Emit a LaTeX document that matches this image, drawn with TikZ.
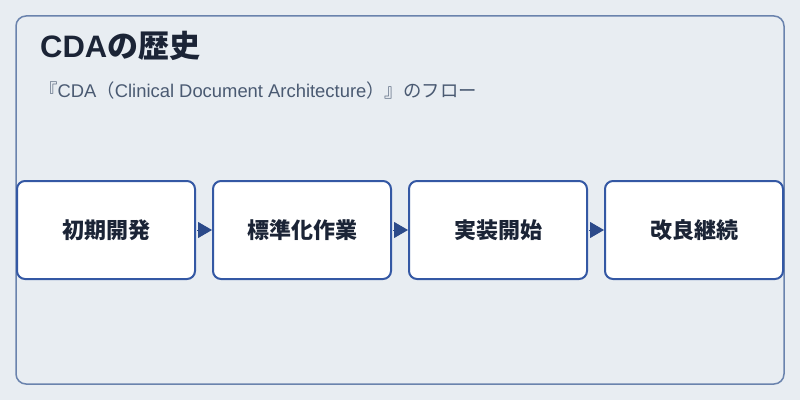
\documentclass[tikz,border=0pt]{standalone}
\usepackage{fontspec}
\setmainfont{Noto Sans CJK JP}
\newfontfamily\latin{Liberation Sans}
\usepackage{tikz}
\usetikzlibrary{arrows.meta,positioning}
\definecolor{bgcol}{HTML}{E8EDF2}
\definecolor{framecol}{HTML}{6A83AD}
\definecolor{boxcol}{HTML}{3458A4}
\definecolor{arrowcol}{HTML}{2C4A8A}
\definecolor{textcol}{HTML}{1B2436}
\definecolor{subcol}{HTML}{4A5A72}
\tikzstyle{stage node}=[rectangle, rounded corners=8pt, draw=boxcol, fill=white, line width=2pt, minimum width=178pt, minimum height=98pt, font=\fontsize{22}{26}\selectfont\bfseries, text=textcol]

\begin{document}
\begin{tikzpicture}[x=1pt, y=1pt, >={Triangle[length=14pt,width=16pt]}, node distance=16pt]

  \useasboundingbox[fill=bgcol] (0,0) rectangle (800,400);
  \draw[framecol, line width=1.5pt, rounded corners=10pt] (16,16) rectangle (784,384);

  \node[anchor=base west, text=textcol, font=\fontsize{31}{36}\selectfont\bfseries, inner sep=0pt] (title) at (40,342) {{\latin CDA}の歴史};
  \node[anchor=base west, text=subcol, font=\fontsize{18.4}{22}\selectfont, inner sep=0pt] (sub) at (39,303) {『{\latin CDA}（{\latin Clinical Document Architecture}）』のフロー};

  \node[stage node] (1) at (106,170) {初期開発};
  \node[stage node] (2) [right = of 1] {標準化作業};
  \node[stage node] (3) [right = of 2] {実装開始};
  \node[stage node] (4) [right = of 3] {改良継続};

  \path[->, color=arrowcol, line width=1pt, shorten <=1pt]
  (1) edge (2)
  (2) edge (3)
  (3) edge (4);

\end{tikzpicture}
\end{document}
